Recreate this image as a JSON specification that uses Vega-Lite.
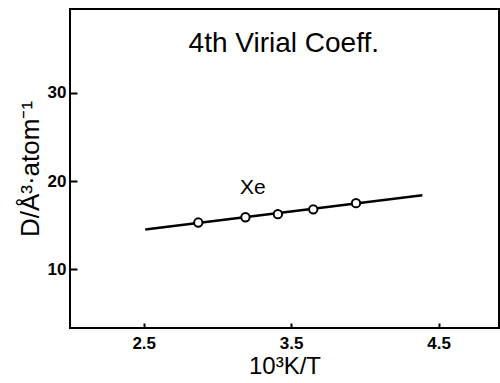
{
  "$schema": "https://vega.github.io/schema/vega-lite/v6.json",
  "width": 429,
  "height": 319,
  "autosize": {"type": "none"},
  "padding": {"left": 70, "top": 9, "right": 1, "bottom": 55},
  "background": "white",
  "config": {
    "view": {"stroke": "black", "strokeWidth": 2},
    "axis": {"grid": false, "domain": false, "labelFont": "Liberation Sans", "labelFontWeight": "bold", "labelFontSize": 17, "labelColor": "black", "tickColor": "black", "tickWidth": 2, "titleFont": "Liberation Sans", "titleFontWeight": "normal", "titleColor": "black"}
  },
  "datasets": {
    "fit": [{"x": 2.51, "y": 14.5}, {"x": 4.39, "y": 18.4}],
    "pts": [
      {"x": 2.87, "y": 15.3},
      {"x": 3.19, "y": 15.9},
      {"x": 3.41, "y": 16.25},
      {"x": 3.65, "y": 16.8},
      {"x": 3.94, "y": 17.5}
    ],
    "labels": [
      {"x": 3.45, "y": 34.6, "text": "4th Virial Coeff.", "kind": "title"},
      {"x": 3.24, "y": 18.5, "text": "Xe", "kind": "series"}
    ]
  },
  "layer": [
    {
      "data": {"name": "fit"},
      "mark": {"type": "line", "color": "black", "strokeWidth": 2.5},
      "encoding": {
        "x": {"field": "x", "type": "quantitative", "scale": {"domain": [2.0, 4.91], "nice": false, "zero": false},
          "axis": {"values": [2.5, 3.5, 4.5], "format": ".1f", "title": "10³K/T", "titleFontSize": 24, "titlePadding": 3, "tickSize": -5, "labelPadding": 12}},
        "y": {"field": "y", "type": "quantitative", "scale": {"domain": [3.35, 39.5], "nice": false, "zero": false},
          "axis": {"values": [10, 20, 30], "title": "D/Å³·atom⁻¹", "titleFontSize": 26, "titlePadding": 4, "tickSize": -7, "labelPadding": 11}}
      }
    },
    {
      "data": {"name": "pts"},
      "mark": {"type": "point", "shape": "circle", "filled": false, "fill": "white", "stroke": "black", "strokeWidth": 2, "size": 70, "opacity": 1},
      "encoding": {
        "x": {"field": "x", "type": "quantitative"},
        "y": {"field": "y", "type": "quantitative"}
      }
    },
    {
      "data": {"name": "labels"},
      "transform": [{"filter": "datum.kind === 'title'"}],
      "mark": {"type": "text", "font": "Liberation Sans", "fontSize": 28, "color": "black", "align": "center", "baseline": "alphabetic"},
      "encoding": {
        "x": {"field": "x", "type": "quantitative"},
        "y": {"field": "y", "type": "quantitative"},
        "text": {"field": "text"}
      }
    },
    {
      "data": {"name": "labels"},
      "transform": [{"filter": "datum.kind === 'series'"}],
      "mark": {"type": "text", "font": "Liberation Sans", "fontSize": 21, "color": "black", "align": "center", "baseline": "alphabetic"},
      "encoding": {
        "x": {"field": "x", "type": "quantitative"},
        "y": {"field": "y", "type": "quantitative"},
        "text": {"field": "text"}
      }
    }
  ]
}
